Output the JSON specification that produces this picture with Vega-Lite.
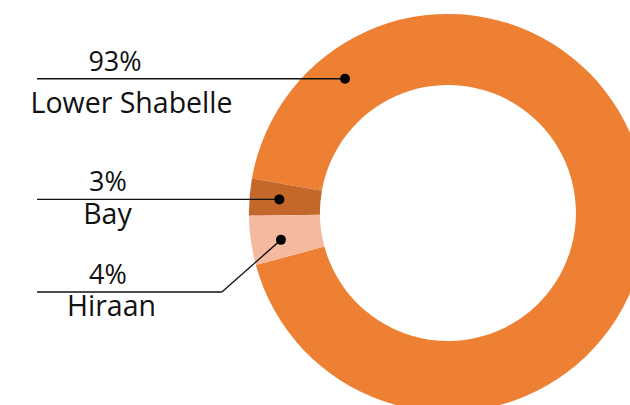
{
  "$schema": "https://vega.github.io/schema/vega-lite/v6.json",
  "width": 630,
  "height": 405,
  "padding": 0,
  "autosize": {"type": "none"},
  "background": "white",
  "config": {"view": {"stroke": null}},
  "data": {
    "values": [
      {"region": "Lower Shabelle", "value": 93},
      {"region": "Bay", "value": 3},
      {"region": "Hiraan", "value": 4}
    ]
  },
  "layer": [
    {
      "mark": {"type": "arc", "outerRadius": 199, "innerRadius": 128, "x": {"expr": "scale('x', 0)"}, "y": {"expr": "scale('y', 0)"}},
      "encoding": {
        "theta": {"field": "value", "type": "quantitative", "stack": true, "scale": {"range": [4.887, 11.1702]}},
        "order": {"field": "region", "type": "ordinal", "sort": "descending"},
        "color": {"field": "region", "type": "nominal", "scale": {"domain": ["Lower Shabelle", "Bay", "Hiraan"], "range": ["#EE8033", "#C4672A", "#F5B9A0"]}, "legend": null}
      }
    },
    {
      "transform": [
        {"window": [{"op": "sum", "field": "value", "as": "cum"}], "sort": [{"field": "region", "order": "descending"}], "frame": [null, 0]},
        {"calculate": "datum.cum - datum.value", "as": "start"},
        {"calculate": "datum.region == 'Lower Shabelle' ? 0.127 : (datum.region == 'Hiraan' ? 0.42 : 0.5)", "as": "anchorFrac"},
        {"calculate": "(280 + 3.6 * (datum.start + datum.anchorFrac * datum.value)) * PI / 180", "as": "ang"},
        {"calculate": "85 * sin(datum.ang)", "as": "dotX"},
        {"calculate": "85 * cos(datum.ang)", "as": "dotY"},
        {"calculate": "datum.region == 'Hiraan' ? -39.7 : datum.dotY", "as": "lineY"},
        {"calculate": "datum.region == 'Hiraan' ? -113.6 : datum.dotX", "as": "elbowX"},
        {"calculate": "-206.5", "as": "lineX0"},
        {"calculate": "datum.region == 'Lower Shabelle' ? -167.3 : -170.9", "as": "pctX"},
        {"calculate": "datum.region == 'Lower Shabelle' ? -159.0 : (datum.region == 'Hiraan' ? -169.1 : -171.1)", "as": "nameX"},
        {"calculate": "datum.lineY - (datum.region == 'Lower Shabelle' ? 17.1 : 12.3)", "as": "nameY"},
        {"calculate": "datum.value + '%'", "as": "pctLabel"}
      ],
      "layer": [
        {
          "mark": {"type": "rule", "stroke": "#111111", "strokeWidth": 1.4},
          "encoding": {
            "x": {"field": "lineX0", "type": "quantitative", "scale": {"domain": [-225.1, 91.5], "nice": false, "zero": false}, "axis": null},
            "x2": {"field": "elbowX"},
            "y": {"field": "lineY", "type": "quantitative", "scale": {"domain": [-96.5, 107.0], "nice": false, "zero": false}, "axis": null}
          }
        },
        {
          "mark": {"type": "rule", "stroke": "#111111", "strokeWidth": 1.4},
          "encoding": {
            "x": {"field": "elbowX", "type": "quantitative", "scale": {"domain": [-225.1, 91.5], "nice": false, "zero": false}, "axis": null},
            "x2": {"field": "dotX"},
            "y": {"field": "lineY", "type": "quantitative", "scale": {"domain": [-96.5, 107.0], "nice": false, "zero": false}, "axis": null},
            "y2": {"field": "dotY"}
          }
        },
        {
          "mark": {"type": "point", "filled": true, "size": 100, "color": "#000000", "opacity": 1},
          "encoding": {
            "x": {"field": "dotX", "type": "quantitative", "scale": {"domain": [-225.1, 91.5], "nice": false, "zero": false}, "axis": null},
            "y": {"field": "dotY", "type": "quantitative", "scale": {"domain": [-96.5, 107.0], "nice": false, "zero": false}, "axis": null}
          }
        },
        {
          "mark": {"type": "text", "font": "Open Sans", "fontSize": 27, "color": "#111111", "align": "center", "baseline": "alphabetic", "dy": -8},
          "encoding": {
            "x": {"field": "pctX", "type": "quantitative", "scale": {"domain": [-225.1, 91.5], "nice": false, "zero": false}, "axis": null},
            "y": {"field": "lineY", "type": "quantitative", "scale": {"domain": [-96.5, 107.0], "nice": false, "zero": false}, "axis": null},
            "text": {"field": "pctLabel"}
          }
        },
        {
          "mark": {"type": "text", "font": "Open Sans", "fontSize": 28.5, "color": "#111111", "align": "center", "baseline": "alphabetic"},
          "encoding": {
            "x": {"field": "nameX", "type": "quantitative", "scale": {"domain": [-225.1, 91.5], "nice": false, "zero": false}, "axis": null},
            "y": {"field": "nameY", "type": "quantitative", "scale": {"domain": [-96.5, 107.0], "nice": false, "zero": false}, "axis": null},
            "text": {"field": "region"}
          }
        }
      ]
    }
  ]
}
